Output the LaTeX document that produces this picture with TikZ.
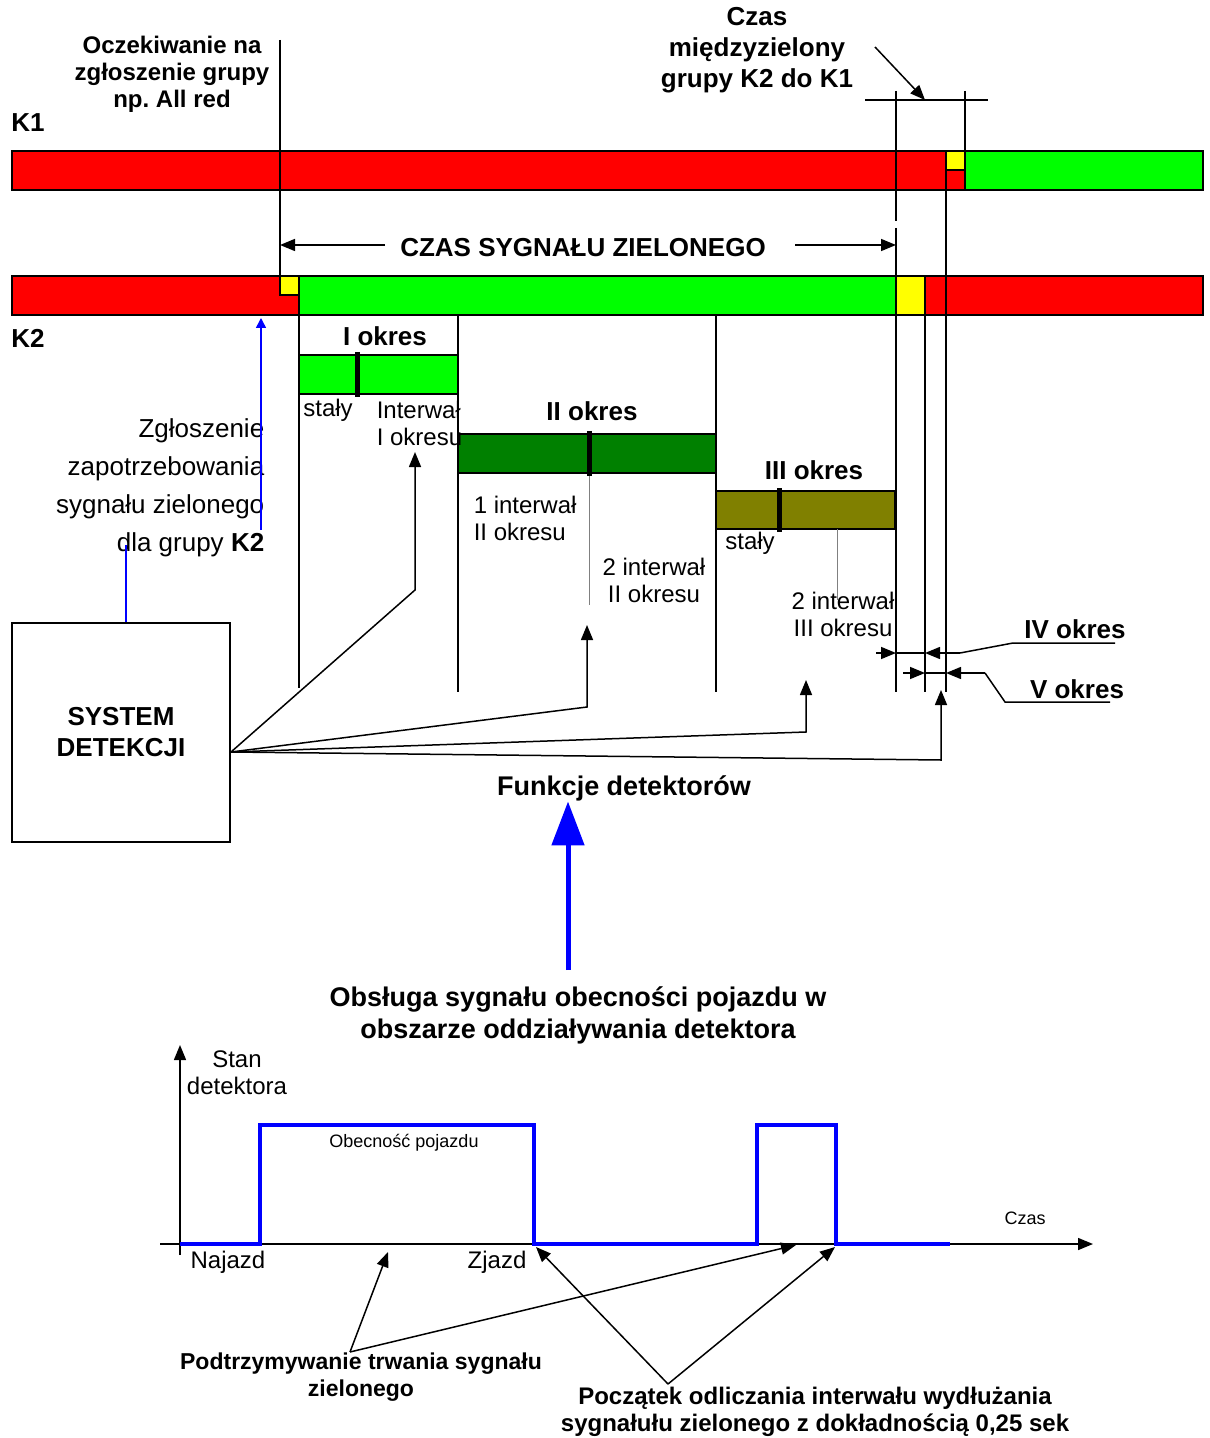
\documentclass[tikz,border=0pt]{standalone}
\usepackage{fontspec}
\setmainfont{Liberation Sans}
\usetikzlibrary{arrows.meta,positioning,calc}
\definecolor{sigred}{RGB}{255,0,0}
\definecolor{siggreen}{RGB}{0,255,0}
\definecolor{sigyellow}{RGB}{255,255,0}
\definecolor{darkgreen}{RGB}{0,128,0}
\definecolor{olivebar}{RGB}{128,128,0}
\frenchspacing

\begin{document}
\begin{tikzpicture}[x=0.5pt, y=-0.5pt, line width=0.75pt]
    \tikzstyle{bar} = [draw, line width=1pt]
    \tikzstyle{title} = [font=\fontsize{13}{15.5}\selectfont\bfseries, align=center, inner sep=0pt]
    \tikzstyle{note} = [font=\fontsize{12}{13.5}\selectfont, align=center, inner sep=0pt]
    \tikzstyle{line} = [draw, -{Triangle[length=7.5pt,width=6pt]}]
    \tikzstyle{tick} = [line width=2.5pt]
    \tikzstyle{pulse} = [draw=blue, line width=2pt]

    \useasboundingbox (0,0) rectangle (1209,1438);

    \filldraw[bar, fill=sigred] (12,151) rectangle (946,190);
    \filldraw[bar, fill=sigyellow] (946,151) rectangle (965,170);
    \filldraw[bar, fill=sigred] (946,170) rectangle (965,190);
    \filldraw[bar, fill=siggreen] (965,151) rectangle (1203,190);

    \filldraw[bar, fill=sigred] (12,276) rectangle (299,315);
    \filldraw[bar, fill=sigyellow] (280,276) rectangle (299,295);
    \filldraw[bar, fill=siggreen] (299,276) rectangle (896,315);
    \filldraw[bar, fill=sigyellow] (896,276) rectangle (925,315);
    \filldraw[bar, fill=sigred] (925,276) rectangle (1203,315);

    \filldraw[bar, fill=siggreen] (299,355) rectangle (458,394);
    \filldraw[bar, fill=darkgreen] (458,434) rectangle (716,473);
    \filldraw[bar, fill=olivebar] (716,491) rectangle (895,529);
    \draw[tick] (357,352) -- (357,397);
    \draw[tick] (589,431) -- (589,476);
    \draw[tick] (779,488) -- (779,532);

    \node[title, font=\fontsize{12}{13.5}\selectfont\bfseries] (wait) at (172,74) {Oczekiwanie na\\zgłoszenie grupy\\np. All red};
    \node[title] (k1) at (28,123) {K1};
    \node[title] (k2) at (28,338) {K2};
    \node[title] (inter) at (757,50) {Czas\\międzyzielony\\grupy K2 do K1};
    \node[title] (green) at (583,248) {CZAS SYGNAŁU ZIELONEGO};
    \node[title] (per1) at (385,336) {I okres};
    \node[title] (per2) at (592,411) {II okres};
    \node[title] (per3) at (814,470) {III okres};
    \node[title] (per4) at (1075,629) {IV okres};
    \node[title] (per5) at (1077,689) {V okres};

    \node[note] (fix1) at (328,410) {stały};
    \node[note, align=left, anchor=west] (int1) at (376,423) {Interwał\\I okresu};
    \node[note, align=left, anchor=west] (int21) at (473,518) {1 interwał\\II okresu};
    \node[note] (int22) at (654,580) {2 interwał\\II okresu};
    \node[note] (fix3) at (750,543) {stały};
    \node[note] (int32) at (843,614) {2 interwał\\III okresu};

    \node[note, font=\fontsize{13}{19}\selectfont, align=right, anchor=east] (req) at (265,488) {Zgłoszenie\\zapotrzebowania\\sygnału zielonego\\dla grupy \textbf{K2}};
    \node[draw, line width=1pt, minimum width=109pt, minimum height=109.5pt, title] (sys) at (121,732.5) {SYSTEM\\DETEKCJI};
    \node[title, font=\fontsize{13.5}{16}\selectfont\bfseries] (func) at (624,788) {Funkcje detektorów};
    \node[title, font=\fontsize{13.5}{16}\selectfont\bfseries] (obs) at (578,1015) {Obsługa sygnału obecności pojazdu w\\obszarze oddziaływania detektora};

    \coordinate (w0) at (280,40);
    \coordinate (w1) at (280,295);
    \coordinate (g0) at (896,91);
    \coordinate (g1) at (896,221);
    \coordinate (g2) at (896,228);
    \coordinate (g3) at (896,692);
    \coordinate (y0) at (965,91);
    \coordinate (y1) at (965,151);
    \coordinate (r0) at (946,170);
    \coordinate (r1) at (946,692);
    \coordinate (e0) at (925,315);
    \coordinate (e1) at (925,692);
    \draw (w0) -- (w1);
    \draw (g0) -- (g1);
    \draw (g2) -- (g3);
    \draw (y0) -- (y1);
    \draw (r0) -- (r1);
    \draw (e0) -- (e1);
    \draw (299,315) -- (299,688);
    \draw (458,315) -- (458,692);
    \draw (716,315) -- (716,692);
    \draw[gray, line width=0.5pt] (589,476) -- (589,605);
    \draw[gray, line width=0.5pt] (837,529) -- (837,600);

    \coordinate (d0) at (865,100);
    \coordinate (d1) at (988,100);
    \coordinate (dm) at (925,100);
    \draw (d0) -- (d1);
    \path[line] (875,47) -- (dm);

    \coordinate (gl) at (385,245);
    \coordinate (gr) at (795,245);
    \path[line] (gl) -- (gl -| w0);
    \path[line] (gr) -- (gr -| g0);

    \coordinate (iv0) at (876,653);
    \coordinate (iv1) at (960,653);
    \path[line] (iv0) -- (iv0 -| g3);
    \draw (iv0 -| g3) -- (iv0 -| e1);
    \path[line] (iv1) -- (iv1 -| e1);
    \draw (iv1) -- (1013,643) -- (1115,643);
    \coordinate (v0) at (903,673);
    \coordinate (v1) at (985,673);
    \path[line] (v0) -- (v0 -| e1);
    \draw (v0 -| e1) -- (v0 -| r1);
    \path[line] (v1) -- (v1 -| r1);
    \draw (v1) -- (1005,702) -- (1110,702);

    \coordinate (ask) at (261,530);
    \draw[blue, -{Triangle[length=5pt,width=5pt]}] (ask) -- (261,318);
    \coordinate (dla) at (126,545);
    \draw[blue] (dla) -- (dla |- sys.north);

    \coordinate (sysout) at ($(sys.east)+(0,19.5)$);
    \coordinate (b1) at (415,590);
    \coordinate (b2) at (587,707);
    \coordinate (b3) at (806,732);
    \coordinate (b4) at (941,760);
    \path[line] (sysout) -- (b1) -- (415,452);
    \path[line] (sysout) -- (b2) -- (587,625);
    \path[line] (sysout) -- (b3) -- (806,680);
    \path[line] (sysout) -- (b4) -- (941,690);

    \coordinate (big) at (568,970);
    \draw[blue, line width=2.5pt, -{Triangle[length=22pt,width=16pt]}] (big) -- (big |- func.south);

    \coordinate (o) at (180,1244);
    \path[line] (180,1255) -- (180,1045);
    \path[line] (160,1244) -- (1093,1244);
    \draw[pulse] (o) -- (260,1244) -- (260,1125) -- (534,1125) -- (534,1244) -- (757,1244) -- (757,1125) -- (836,1125) -- (836,1244) -- (950,1244);

    \node[note] (stan) at (237,1073) {Stan\\detektora};
    \node[note, font=\fontsize{9}{11}\selectfont] (pres) at (404,1143) {Obecność pojazdu};
    \node[note, font=\fontsize{9}{11}\selectfont] (time) at (1025,1218) {Czas};
    \node[note] (in) at (228,1262) {Najazd};
    \node[note] (out) at (497,1262) {Zjazd};
    \node[title, font=\fontsize{11.5}{13.5}\selectfont\bfseries] (hold) at (361,1377) {Podtrzymywanie trwania sygnału\\zielonego};
    \node[title, font=\fontsize{12}{13.5}\selectfont\bfseries] (count) at (815,1412) {Początek odliczania interwału wydłużania\\sygnałułu zielonego z dokładnością 0,25 sek};

    \coordinate (h0) at ($(hold.north)+(-11,0)$);
    \coordinate (c0) at (668,1384);
    \path[line] (h0) -- (388,1252);
    \path[line] (h0) -- (796,1245);
    \path[line] (c0) -- (536,1247);
    \path[line] (c0) -- (835,1247);
\end{tikzpicture}
\end{document}
